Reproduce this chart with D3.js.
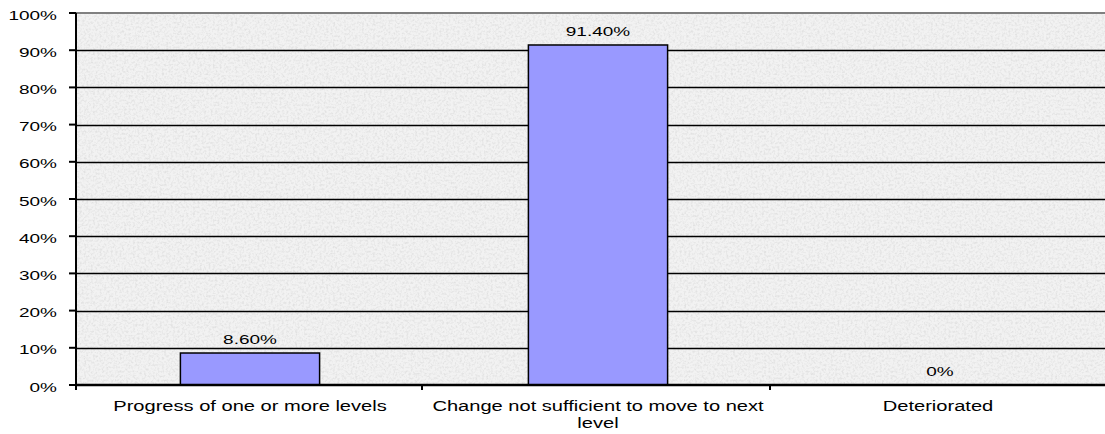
<!DOCTYPE html>
<html lang="en">
<head>
    <style>
        body { margin: 0; background: #fff; }
        svg { display: block; }
        text { font-family: "Liberation Sans", Arial, sans-serif; fill: #000; }
    </style>
</head>
<body>
    <svg width="1105" height="434"></svg>
    <script src="https://cdn.jsdelivr.net/npm/d3@7"></script>
    <script>
        const categories = ["Progress of one or more levels", "Change not sufficient to move to next level", "Deteriorated"];
        const values = [8.6, 91.4, 0];
        const valueLabels = ["8.60%", "91.40%", "0%"];
        const yTicks = [0, 10, 20, 30, 40, 50, 60, 70, 80, 90, 100];
        // how the category labels break onto lines
        const wrapped = [["Progress of one or more levels"], ["Change not sufficient to move to next", "level"], ["Deteriorated"]];

        const svg = d3.select("svg");
        const plotLeft = 76, plotTop = 13, plotBottom = 385, plotRight = 1120;

        const x = d3.scaleBand().domain(categories).range([plotLeft, plotRight]);
        const y = d3.scaleLinear().domain([0, 100]).range([plotBottom, plotTop]);

        // the original image is stretched sideways, so text gets a horizontal scale
        const stretchCat = 1.34, stretchNum = 1.52;

        /************************************************************************************
        * Background texture
        ************************************************************************************/
        const defs = svg.append("defs");
        const f = defs.append("filter").attr("id", "grain")
            .attr("x", 0).attr("y", 0).attr("width", "100%").attr("height", "100%");
        f.append("feTurbulence").attr("type", "fractalNoise").attr("baseFrequency", "0.45")
            .attr("numOctaves", 3).attr("seed", 7).attr("result", "n");
        f.append("feColorMatrix").attr("type", "matrix")
            .attr("values", "0 0 0 0 0.5  0 0 0 0 0.5  0 0 0 0 0.5  0 0 0 -2.6 1.5");
        f.append("feComposite").attr("in2", "SourceGraphic").attr("operator", "in");

        svg.append("rect").attr("x", plotLeft).attr("y", plotTop)
            .attr("width", 1105 - plotLeft).attr("height", plotBottom - plotTop).attr("fill", "#f2f2f2");
        svg.append("rect").attr("x", plotLeft).attr("y", plotTop)
            .attr("width", 1105 - plotLeft).attr("height", plotBottom - plotTop).attr("fill", "#000")
            .attr("filter", "url(#grain)").attr("opacity", 0.28);

        /************************************************************************************
        * Gridlines
        ************************************************************************************/
        svg.append("g").selectAll("line").data(yTicks.filter(d => d > 0 && d < 100)).enter()
            .append("line")
            .attr("x1", plotLeft).attr("x2", 1105)
            .attr("y1", d => Math.round(y(d)) + 0.5).attr("y2", d => Math.round(y(d)) + 0.5)
            .attr("stroke", "#000").attr("stroke-width", 1.5);
        svg.append("line").attr("x1", plotLeft).attr("x2", 1105)
            .attr("y1", plotTop).attr("y2", plotTop)
            .attr("stroke", "#808080").attr("stroke-width", 2);

        /************************************************************************************
        * Bars
        ************************************************************************************/
        const bw = x.bandwidth() * 0.4;
        svg.append("g").selectAll("rect").data(values).enter()
            .append("rect")
            .attr("x", (d, i) => x(categories[i]) + x.bandwidth() / 2 - bw / 2)
            .attr("y", d => y(d))
            .attr("width", bw)
            .attr("height", d => plotBottom - y(d))
            .attr("fill", "#9999ff").attr("stroke", "#000").attr("stroke-width", 1.5);

        svg.append("g").selectAll("text").data(values).enter()
            .append("text")
            .attr("transform", (d, i) =>
                `translate(${x(categories[i]) + x.bandwidth() / 2 + (d === 0 ? -6 : 0)},${y(d) - 9}) scale(${stretchNum},1)`)
            .attr("text-anchor", "middle")
            .style("font-size", "12.5px")
            .text((d, i) => valueLabels[i]);

        /************************************************************************************
        * Axes
        ************************************************************************************/
        svg.append("line").attr("x1", plotLeft).attr("x2", plotLeft)
            .attr("y1", plotTop).attr("y2", plotBottom + 5)
            .attr("stroke", "#000").attr("stroke-width", 2);
        svg.append("g").selectAll("line").data(yTicks).enter()
            .append("line")
            .attr("x1", plotLeft - 7).attr("x2", plotLeft)
            .attr("y1", d => y(d)).attr("y2", d => y(d))
            .attr("stroke", "#000").attr("stroke-width", 2);
        svg.append("g").selectAll("text").data(yTicks).enter()
            .append("text")
            .attr("transform", d => `translate(57,${y(d) + 6.5}) scale(${stretchNum},1)`)
            .attr("text-anchor", "end")
            .style("font-size", "12.5px")
            .text(d => d + "%");

        svg.append("line").attr("x1", plotLeft).attr("x2", 1105)
            .attr("y1", plotBottom).attr("y2", plotBottom)
            .attr("stroke", "#000").attr("stroke-width", 2.5);
        svg.append("g").selectAll("line").data(categories.slice(1)).enter()
            .append("line")
            .attr("x1", d => x(d) - 2).attr("x2", d => x(d) - 2)
            .attr("y1", plotBottom).attr("y2", plotBottom + 5)
            .attr("stroke", "#000").attr("stroke-width", 2);

        const cl = svg.append("g").selectAll("text").data(categories).enter()
            .append("text")
            .attr("transform", d =>
                `translate(${x(d) + x.bandwidth() / 2 + (d === "Deteriorated" ? -8 : 0)},411) scale(${stretchCat},1)`)
            .attr("text-anchor", "middle")
            .style("font-size", "15px");
        cl.selectAll("tspan").data((d, i) => wrapped[i]).enter()
            .append("tspan")
            .attr("x", 0)
            .attr("dy", (d, i) => i === 0 ? 0 : 17)
            .text(d => d);
    </script>
</body>
</html>
